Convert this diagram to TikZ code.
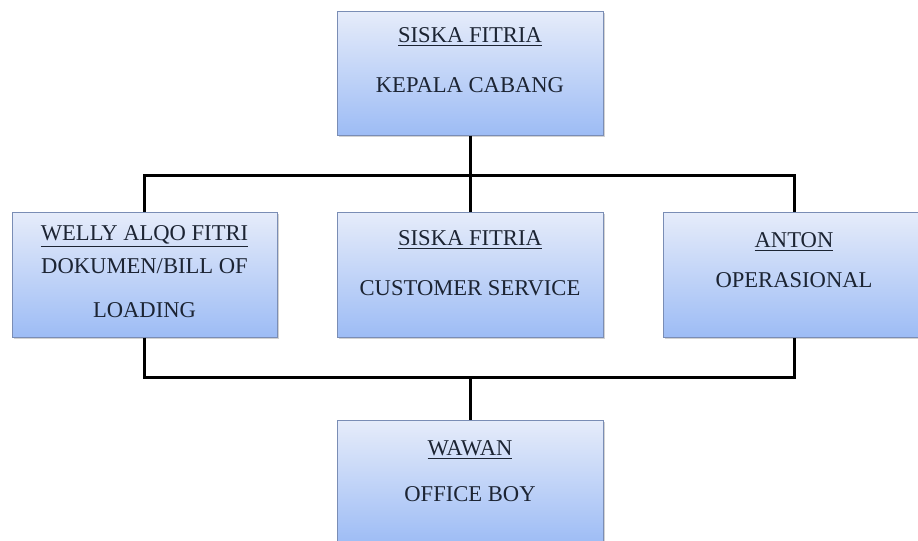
\documentclass[tikz,border=0pt]{standalone}
\usepackage{fontspec}
\setmainfont{Liberation Serif}
\usepackage{tikz}
\usetikzlibrary{shadows}
\definecolor{boxtop}{HTML}{E6ECFA}
\definecolor{boxbot}{HTML}{9DBCF5}
\definecolor{boxline}{HTML}{7A8DB5}
\definecolor{inktext}{HTML}{1C2433}
\tikzset{
  orgbox/.style={draw=boxline, line width=0.5pt, top color=boxtop, bottom color=boxbot,
    minimum width=133pt, minimum height=62pt, inner sep=0pt,
    drop shadow={shadow xshift=1.2pt, shadow yshift=-1.2pt, opacity=0.35}},
  orgtext/.style={anchor=base, inner sep=0pt, text=inktext, align=center,
    font=\fontsize{11.3pt}{22pt}\selectfont},
  bus/.style={line width=1.5pt, black}
}

\begin{document}
\begin{tikzpicture}[x=0.5pt, y=-0.5pt]
\clip (0,0) rectangle (918,541);
\fill[white] (0,0) rectangle (918,541);

% kotak-kotak jabatan
\node[orgbox] (kc) at (470,73) {};
\node[orgbox, minimum width=132.5pt, minimum height=62.5pt] (dok) at (144.5,274.5) {};
\node[orgbox, minimum height=62.5pt] (cs) at (470,274.5) {};
\node[orgbox, minimum width=131pt, minimum height=62.5pt] (ops) at (794,274.5) {};
\node[orgbox] (ob) at (470,482) {};

% nama dan jabatan
\node[orgtext] (kc-nama) at (470,42) {\underline{SISKA FITRIA}};
\node[orgtext] (kc-jab) at (470,92) {KEPALA CABANG};
\node[orgtext] (dok-nama) at (144.5,240) {\underline{WELLY ALQO FITRI}};
\node[orgtext] (dok-jab) at (144.5,317) {DOKUMEN/BILL OF\\LOADING};
\node[orgtext] (cs-nama) at (470,245) {\underline{SISKA FITRIA}};
\node[orgtext] (cs-jab) at (470,295) {CUSTOMER SERVICE};
\node[orgtext] (ops-nama) at (794,247) {\underline{ANTON}};
\node[orgtext] (ops-jab) at (794,287) {OPERASIONAL};
\node[orgtext] (ob-nama) at (470,455) {\underline{WAWAN}};
\node[orgtext] (ob-jab) at (470,501) {OFFICE BOY};

% garis penghubung
\coordinate (top-bus) at (470,175);
\coordinate (bot-bus) at (470,377);
\draw[bus] (kc.south) -- (top-bus);
\draw[bus] (dok.north) |- (top-bus) -| (ops.north);
\draw[bus] (top-bus) -- (cs.north);
\draw[bus] (dok.south) |- (bot-bus) -| (ops.south);
\draw[bus] (bot-bus) -- (ob.north);
\end{tikzpicture}
\end{document}
